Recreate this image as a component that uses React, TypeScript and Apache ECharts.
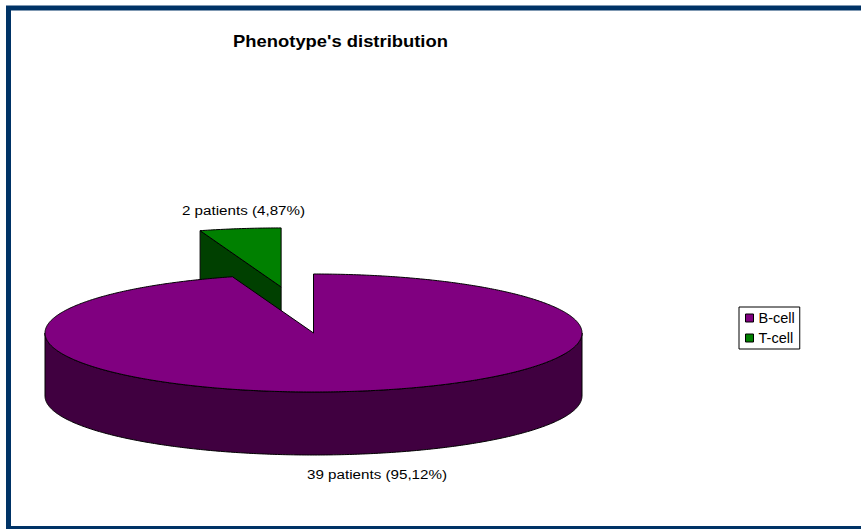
import React, { useEffect, useRef } from "react";
import * as echarts from "echarts";

const chartTitle = "Phenotype's distribution";
const categories = ["B-cell", "T-cell"];
const patients = [39, 2];
const sliceLabels = ["39 patients (95,12%)", "2 patients (4,87%)"];
const topColors = ["#800080", "#008000"];
const sideColors = ["#400040", "#004000"];
const explodeFractions = [0, 0.79];
const labelCentres = [[377, 474], [243.5, 210]];

const CX = 313.5, CY = 333, RX = 268.5, RY = 59, DEPTH = 63;
const FONT = '"Liberation Sans", Arial, sans-serif';
const total = patients.reduce((a, b) => a + b, 0);

function rim(theta: number, ox: number, oy: number, d = 0): number[] {
  return [ox + RX * Math.sin(theta), oy - RY * Math.cos(theta) + d];
}
function arc(a: number, b: number, ox: number, oy: number, d = 0): number[][] {
  const n = Math.max(2, Math.ceil(Math.abs(b - a) / 0.01));
  const pts: number[][] = [];
  for (let i = 0; i <= n; i++) pts.push(rim(a + ((b - a) * i) / n, ox, oy, d));
  return pts;
}

function makeRenderItem(idx: number) {
  return (_params: any, api: any) => {
    const value = api.value(0);
    const before = patients.slice(0, idx).reduce((a, b) => a + b, 0);
    const a0 = (before / total) * 2 * Math.PI;
    const a1 = a0 + (value / total) * 2 * Math.PI;
    const mid = (a0 + a1) / 2;
    const k = explodeFractions[idx];
    const ox = CX + RX * k * Math.sin(mid);
    const oy = CY - RY * k * Math.cos(mid);
    const line = { stroke: "#000", lineWidth: 1 };
    const children: any[] = [];
    const wallA = Math.max(a0, Math.PI / 2);
    const wallB = Math.min(a1, (3 * Math.PI) / 2);
    if (wallB > wallA) {
      const upper = arc(wallA, wallB, ox, oy);
      const lower = arc(wallB, wallA, ox, oy, DEPTH);
      children.push({
        type: "polygon",
        shape: { points: upper.concat(lower) },
        style: { fill: sideColors[idx], ...line },
      });
    }
    if (Math.sin(a0) < -1e-6 && Math.cos(a0) > 0) {
      const p = rim(a0, ox, oy);
      children.push({
        type: "polygon",
        shape: { points: [p, [ox, oy], [ox, oy + DEPTH], [p[0], p[1] + DEPTH]] },
        style: { fill: sideColors[idx], ...line },
      });
    }
    children.push({
      type: "polygon",
      shape: { points: [[ox, oy]].concat(arc(a0, a1, ox, oy)) },
      style: { fill: topColors[idx], ...line },
    });
    children.push({
      type: "text",
      x: labelCentres[idx][0],
      y: labelCentres[idx][1],
      scaleX: 1.125,
      style: {
        x: 0,
        y: 0,
        text: sliceLabels[idx],
        fill: "#000",
        font: `13.5px ${FONT}`,
        align: "center",
        verticalAlign: "middle",
      },
    });
    return { type: "group", children };
  };
}

export default function App() {
  const ref = useRef<HTMLDivElement>(null);
  useEffect(() => {
    document.body.style.margin = "0";
    const chart = echarts.init(ref.current!, null, { renderer: "svg" });
    chart.setOption({
      animation: false,
      backgroundColor: "#fff",
      legend: {
        data: categories,
        orient: "vertical",
        left: 739,
        top: 307,
        padding: [3.5, 5, 3.5, 6],
        itemGap: 5,
        itemWidth: 8,
        itemHeight: 8,
        borderColor: "#000",
        borderWidth: 1,
        icon: "rect",
        selectedMode: false,
        textStyle: { fontFamily: FONT, fontSize: 14.5, lineHeight: 14, color: "#000" },
        itemStyle: { borderColor: "#000", borderWidth: 1 },
      },
      graphic: [
        {
          type: "rect",
          silent: true,
          shape: { x: 8.5, y: 8, width: 900, height: 520.5 },
          style: { fill: "none", stroke: "#003366", lineWidth: 5 },
        },
        {
          type: "text",
          silent: true,
          x: 340.5,
          y: 41,
          scaleX: 1.15,
          style: {
            x: 0,
            y: 0,
            text: chartTitle,
            fill: "#000",
            font: `bold 16px ${FONT}`,
            align: "center",
            verticalAlign: "middle",
          },
        },
      ],
      // T-cell first, so the main slice covers the lower part of its cut face.
      series: [1, 0].map((i) => ({
        type: "custom",
        name: categories[i],
        coordinateSystem: "none",
        itemStyle: { color: topColors[i] },
        data: [[patients[i]]],
        renderItem: makeRenderItem(i),
        silent: true,
      })),
    });
    return () => chart.dispose();
  }, []);
  return <div ref={ref} style={{ width: 861, height: 529 }} />;
}
